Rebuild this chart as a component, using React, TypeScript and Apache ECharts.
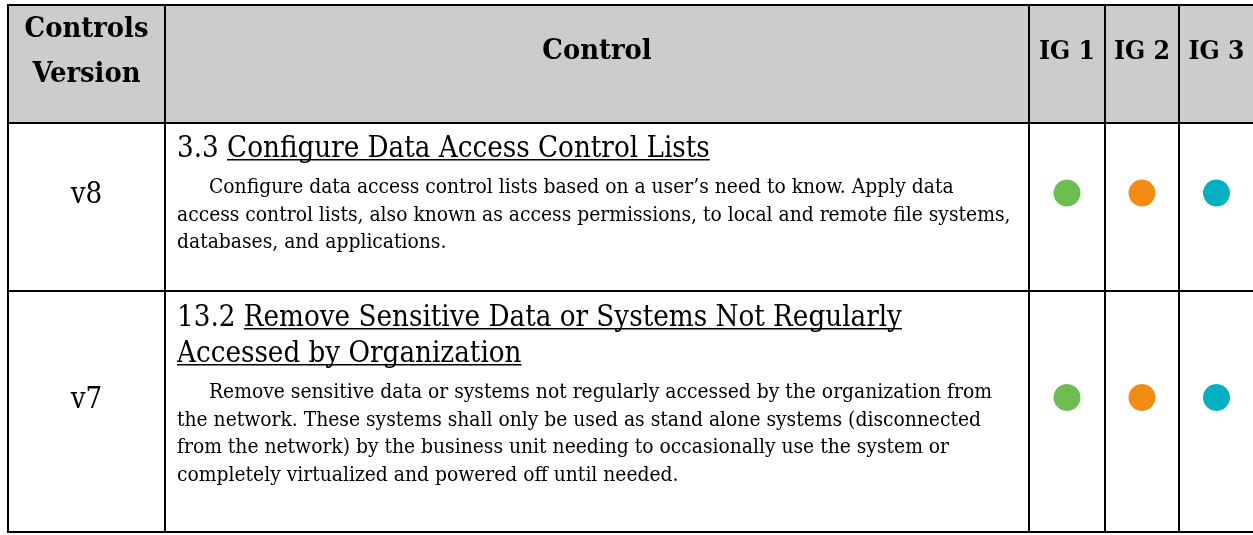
import { useEffect, useRef } from "react";
import * as echarts from "echarts";

// ---- data ----
const headerVersion = ["Controls", "Version"];
const headerControl = "Control";
const headerIG = ["IG 1", "IG 2", "IG 3"];
const versions = ["v8", "v7"];
const controlIds = ["3.3", "13.2"];
const titleLines = [
  ["Configure Data Access Control Lists"],
  ["Remove Sensitive Data or Systems Not Regularly", "Accessed by Organization"],
];
const descLines = [
  [
    "Configure data access control lists based on a user\u2019s need to know. Apply data",
    "access control lists, also known as access permissions, to local and remote file systems,",
    "databases, and applications.",
  ],
  [
    "Remove sensitive data or systems not regularly accessed by the organization from",
    "the network. These systems shall only be used as stand alone systems (disconnected",
    "from the network) by the business unit needing to occasionally use the system or",
    "completely virtualized and powered off until needed.",
  ],
];
const igApplies = [
  [true, true, true],
  [true, true, true],
];
const igColors = ["#6dbe50", "#f28c14", "#02b1c1"];

// ---- layout ----
const FAMILY = "'DejaVu Serif Condensed', 'DejaVu Serif', serif";
const colX = [8, 165, 1029, 1105, 1179, 1254];
const rowY = [5, 123, 291, 532];

export default function App() {
  const ref = useRef<HTMLDivElement>(null);
  useEffect(() => {
    if (!ref.current) return;
    const chart = echarts.init(ref.current, undefined, { renderer: "svg" });
    const ctx = document.createElement("canvas").getContext("2d")!;
    const tw = (t: string, size: number, weight: string) => {
      ctx.font = `${weight} ${size}px ${FAMILY}`;
      return ctx.measureText(t).width;
    };
    const fit = (t: string, target: number, weight: string) => (100 * target) / tw(t, 100, weight);

    const headSize = fit(headerVersion[0], 124, "bold");
    const igSize = fit(headerIG[0], 56, "bold");
    const titleSize = fit(controlIds[0] + " " + titleLines[0][0], 533, "normal");
    const bodySize = fit(descLines[0][1], 834, "normal");

    const els: any[] = [];
    const txt = (text: string, x: number, y: number, size: number, weight: string, align: string) =>
      els.push({
        type: "text",
        x,
        y,
        z: 10,
        style: { text, fontSize: size, fontFamily: FAMILY, fontWeight: weight, fill: "#000", align, verticalAlign: "middle" },
      });

    // backgrounds
    els.push({ type: "rect", shape: { x: 0, y: 0, width: 1253, height: 535 }, style: { fill: "#fff" }, z: 0 });
    els.push({
      type: "rect",
      shape: { x: colX[0], y: rowY[0], width: colX[5] - colX[0], height: rowY[1] - rowY[0] },
      style: { fill: "#cccccc" },
      z: 1,
    });

    // header
    const headCy = 49;
    const cx = (i: number) => (colX[i] + colX[i + 1]) / 2;
    txt(headerVersion[0], cx(0), 26.5, headSize, "bold", "center");
    txt(headerVersion[1], cx(0), 72, headSize, "bold", "center");
    txt(headerControl, cx(1), headCy, headSize, "bold", "center");
    headerIG.forEach((h, i) => txt(h, cx(2 + i), headCy, igSize, "bold", "center"));

    // rows
    const left = 177;
    const indent = 32;
    const titleLH = 36;
    const bodyLH = 27.5;
    const titleTop = [147, 316];
    versions.forEach((v, r) => {
      const rc = (rowY[r + 1] + rowY[r + 2]) / 2 - 14;
      txt(v, cx(0), rc, titleSize, "normal", "center");
      titleLines[r].forEach((line, li) => {
        const y = titleTop[r] + li * titleLH;
        let uStart = left;
        let text = line;
        if (li === 0) {
          const prefix = controlIds[r] + " ";
          text = prefix + line;
          uStart = left + tw(prefix, titleSize, "normal");
        }
        txt(text, left, y, titleSize, "normal", "left");
        const uEnd = left + tw(text, titleSize, "normal");
        const uy = y + titleSize * 0.44;
        els.push({
          type: "line",
          shape: { x1: uStart, y1: uy, x2: uEnd, y2: uy },
          style: { stroke: "#000", lineWidth: 1.5 },
          z: 10,
        });
      });
      const bodyTop = titleTop[r] + titleLines[r].length * titleLH + 3;
      descLines[r].forEach((line, li) => {
        txt(line, li === 0 ? left + indent : left, bodyTop + li * bodyLH, bodySize, "normal", "left");
      });
      igApplies[r].forEach((on, k) => {
        if (!on) return;
        els.push({
          type: "circle",
          shape: { cx: cx(2 + k), cy: rc, r: 13.5 },
          style: { fill: igColors[k] },
          z: 10,
        });
      });
    });

    // grid lines
    colX.forEach((x) =>
      els.push({ type: "line", shape: { x1: x, y1: rowY[0] - 1, x2: x, y2: rowY[3] + 1 }, style: { stroke: "#000", lineWidth: 2 }, z: 5 })
    );
    rowY.forEach((y) =>
      els.push({ type: "line", shape: { x1: colX[0] - 1, y1: y, x2: colX[5] + 1, y2: y }, style: { stroke: "#000", lineWidth: 2 }, z: 5 })
    );

    chart.setOption({ animation: false, graphic: { elements: els } });
    return () => chart.dispose();
  }, []);
  return <div ref={ref} style={{ position: "fixed", left: 0, top: 0, width: 1253, height: 535 }} />;
}
